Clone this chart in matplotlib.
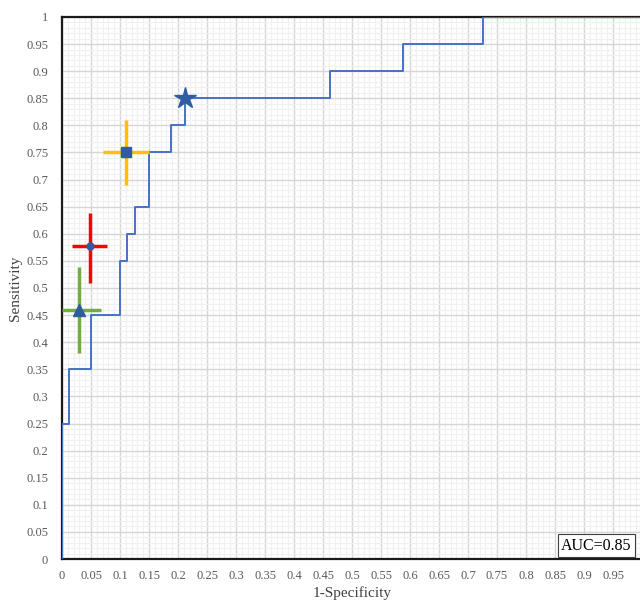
import numpy as np
import matplotlib.pyplot as plt
from matplotlib.ticker import MultipleLocator

# ROC curve (steps-post breakpoints)
fpr = [0, 0, 0.0125, 0.05, 0.1, 0.1125, 0.125, 0.15, 0.1875, 0.2125, 0.4625, 0.5875, 0.725, 1.0]
tpr = [0, 0.25, 0.35, 0.45, 0.55, 0.6, 0.65, 0.75, 0.8, 0.85, 0.9, 0.95, 1.0, 1.0]

# optimal cut-off point on the curve
star_x, star_y = 0.2125, 0.85

# reader points with error bars
pt_names = ['orange', 'red', 'green']
pt_x = [0.11, 0.048, 0.03]
pt_y = [0.75, 0.578, 0.46]
pt_xerr = [[0.04, 0.03, 0.03], [0.04, 0.03, 0.038]]
pt_yerr = [[0.06, 0.068, 0.08], [0.06, 0.06, 0.078]]
pt_colors = ['#FFC000', '#FF0000', '#70AD47']
pt_markers = ['s', 'o', '^']
pt_msize = [7, 5, 8]

auc_text = 'AUC=0.85'

plt.rcParams['font.family'] = ['Liberation Serif', 'DejaVu Serif']

fig = plt.figure(figsize=(6.4, 6.0), dpi=100)
ax = fig.add_axes([0.0969, 0.0683, 0.9063, 0.9034])

ax.set_xlim(0, 1)
ax.set_ylim(0, 1)
ax.xaxis.set_minor_locator(MultipleLocator(0.01))
ax.yaxis.set_minor_locator(MultipleLocator(0.01))
ax.grid(which='minor', color='#f0f0f0', lw=0.8, zorder=0)
ax.grid(which='major', color='#d6d6d6', lw=1.0, zorder=0)
ax.set_axisbelow(True)

ticks = np.round(np.arange(0, 1.0001, 0.05), 2)
labels = ['%g' % t for t in ticks]
ax.set_xticks(ticks)
ax.set_xticklabels(labels)
ax.set_yticks(ticks)
ax.set_yticklabels(labels)
ax.tick_params(which='both', length=0, labelsize=9, labelcolor='#595959')
ax.tick_params(axis='x', pad=8)
ax.tick_params(axis='y', pad=10)

for s in ['left', 'top', 'bottom', 'right']:
    ax.spines[s].set_color('#1a1a1a')
    ax.spines[s].set_linewidth(1.6)

ax.plot(fpr, tpr, drawstyle='steps-post', color='#4472C4', lw=1.4, zorder=3)
ax.plot([star_x], [star_y], marker='*', ms=16, color='#2F5D9F', zorder=5, ls='none')

for i in range(len(pt_x)):
    ax.errorbar(pt_x[i], pt_y[i],
                xerr=[[pt_xerr[0][i]], [pt_xerr[1][i]]],
                yerr=[[pt_yerr[0][i]], [pt_yerr[1][i]]],
                fmt='none', ecolor=pt_colors[i], elinewidth=2.5, capsize=0, zorder=4)
    ax.plot([pt_x[i]], [pt_y[i]], marker=pt_markers[i], ms=pt_msize[i],
            color='#2F5D9F', ls='none', zorder=5)

ax.set_xlabel('1-Specificity', fontsize=11, color='#404040', labelpad=3)
ax.set_ylabel('Sensitivity', fontsize=11, color='#404040', labelpad=3)

ax.text(0.982, 0.01, auc_text, transform=ax.transAxes, ha='right', va='bottom',
        fontsize=11.5, color='black',
        bbox=dict(boxstyle='square,pad=0.2', fc='white', ec='#404040', lw=0.8), zorder=6)

fig.savefig('out.png', dpi=100)
